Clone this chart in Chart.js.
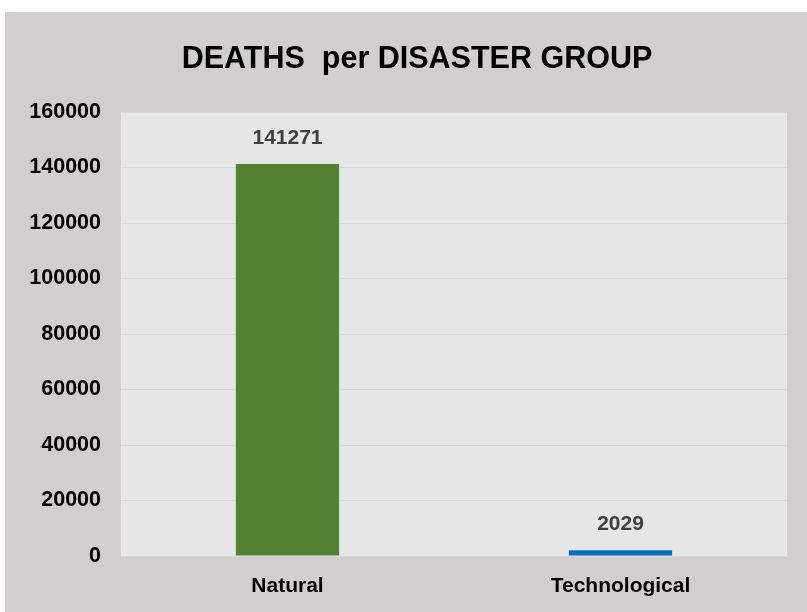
<!DOCTYPE html>
<html>
<head>
<meta charset="utf-8">
<script src="https://cdn.jsdelivr.net/npm/chart.js@4.4.0/dist/chart.umd.min.js"></script>
<style>
  html, body { margin: 0; padding: 0; background: #ffffff; }
  #wrap { position: absolute; left: 5px; top: 12px; width: 802px; height: 600px; background: #d0cece; }
  canvas { display: block; }
</style>
</head>
<body>
<div id="wrap"><canvas id="c" width="802" height="600"></canvas></div>
<script>
const categories = ["Natural", "Technological"];
const deaths = [141271, 2029];
const barColors = ["#548235", "#0070c0"];
const yTicks = [0, 20000, 40000, 60000, 80000, 100000, 120000, 140000, 160000];
const titleText = "DEATHS  per DISASTER GROUP";

const FONT = "'Liberation Sans', Arial, sans-serif";

const plotBg = {
  id: 'plotBg',
  beforeDraw(chart) {
    const { ctx, chartArea: a } = chart;
    ctx.save();
    ctx.fillStyle = '#e7e6e6';
    ctx.fillRect(a.left, a.top, a.right - a.left, a.bottom - a.top);
    ctx.restore();
  }
};

const titleDraw = {
  id: 'titleDraw',
  afterDraw(chart) {
    const { ctx } = chart;
    ctx.save();
    ctx.font = "bold 30.5px " + FONT;
    ctx.fillStyle = '#000000';
    ctx.textAlign = 'center';
    ctx.textBaseline = 'middle';
    ctx.fillText(titleText, 412, 48);
    ctx.restore();
  }
};

const valueLabels = {
  id: 'valueLabels',
  afterDatasetsDraw(chart) {
    const { ctx } = chart;
    const meta = chart.getDatasetMeta(0);
    ctx.save();
    ctx.font = "bold 21px " + FONT;
    ctx.fillStyle = '#404040';
    ctx.textAlign = 'center';
    ctx.textBaseline = 'middle';
    meta.data.forEach((bar, i) => {
      ctx.fillText(String(chart.data.datasets[0].data[i]), bar.x, bar.y - 26);
    });
    ctx.restore();
  }
};

new Chart(document.getElementById('c'), {
  type: 'bar',
  data: {
    labels: categories,
    datasets: [{
      data: deaths,
      backgroundColor: barColors,
      borderWidth: 0,
      barPercentage: 0.31,
      categoryPercentage: 1.0
    }]
  },
  options: {
    responsive: false,
    animation: false,
    layout: { padding: { left: 0, right: 20, top: 100, bottom: 0 } },
    plugins: {
      legend: { display: false },
      tooltip: { enabled: false },
      title: { display: false }
    },
    scales: {
      x: {
        grid: { display: false, drawTicks: false },
        border: { display: true, color: '#d9d9d9' },
        ticks: { color: '#000000', font: { family: FONT, size: 21, weight: 'bold' }, padding: 18 },
        afterFit(s) { s.height = 56; }
      },
      y: {
        min: 0, max: 160000,
        afterBuildTicks(s) { s.ticks = yTicks.map(v => ({ value: v })); },
        grid: { color: '#d9d9d9', drawTicks: false, lineWidth: 1 },
        border: { display: false },
        ticks: {
          color: '#000000',
          font: { family: FONT, size: 21.5, weight: 'bold' },
          padding: 20,
          callback(v) { return String(v); }
        },
        afterFit(s) { s.width = 116; }
      }
    }
  },
  plugins: [plotBg, valueLabels, titleDraw]
});
</script>
</body>
</html>
